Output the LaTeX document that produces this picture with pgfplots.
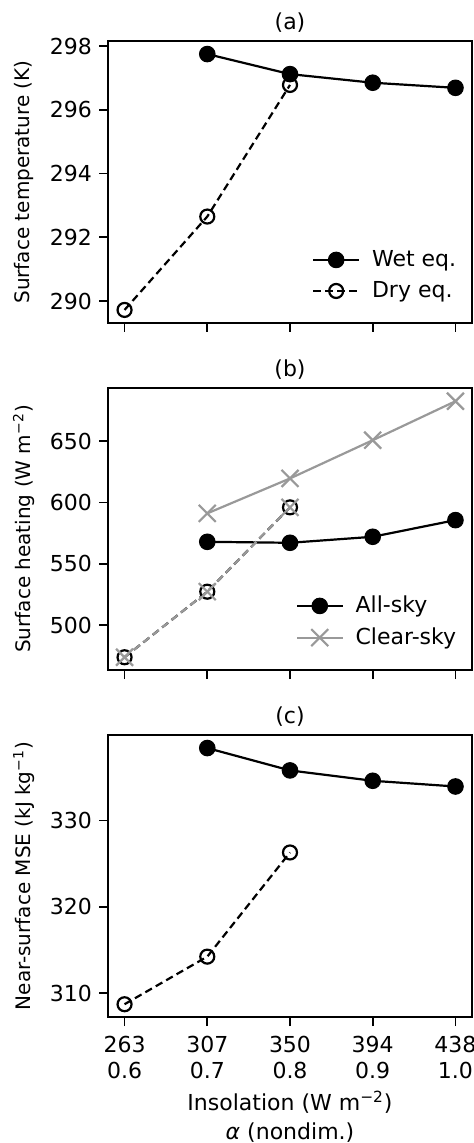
\documentclass[border=0pt]{standalone}
\usepackage{fontspec}
\setmainfont{DejaVu Sans}
\usepackage{pgfplots}
\pgfplotsset{compat=1.18}
\definecolor{mgray}{RGB}{153,153,153}

\pgfplotsset{
  panel/.style={
    width=182pt, height=141pt, scale only axis,
    xmin=0.58, xmax=1.02,
    xtick={0.6,0.7,0.8,0.9,1.0},
    tick align=outside, tick pos=left,
    major tick length=4.5pt,
    /pgf/number format/assume math mode=true,
    tick label style={font=\fontsize{11}{13}\selectfont},
    label style={font=\fontsize{11}{14.5}\selectfont},
    title style={font=\fontsize{11}{13}\selectfont, yshift=-5pt},
    axis line style={line width=0.8pt},
    every tick/.style={black, line width=0.8pt},
    legend style={draw=none, fill=none, font=\fontsize{11}{13}\selectfont,
      at={(0.985,0.05)}, anchor=south east, row sep=2pt,
      /tikz/every odd column/.append style={column sep=4pt}},
    legend cell align=left,
    legend image code/.code={\draw[mark repeat=2,mark phase=2] plot coordinates {(0cm,0cm) (0.4cm,0cm) (0.8cm,0cm)};},
    scaled ticks=false,
    yticklabel style={/pgf/number format/fixed, /pgf/number format/1000 sep={}},
    every axis y label/.style={at={([xshift=-42pt]axis description cs:0,0.5)}, rotate=90, anchor=center},
  },
  wet/.style={black, line width=1.1pt, mark=*, mark size=3.9pt, mark options={solid, line width=0.5pt}},
  dry/.style={black, line width=1.1pt, dash pattern=on 3.8pt off 2.2pt, mark=o, mark size=3.5pt, mark options={solid, line width=1.1pt}},
  clr/.style={mgray, line width=1.1pt, mark=x, mark size=6pt, mark options={solid, line width=1.1pt}},
}

\begin{document}
\begin{tikzpicture}
% (a) surface temperature
\begin{axis}[panel, at={(54pt,-20.5pt)}, anchor=north west,
  title={(a)}, ymin=289.31, ymax=298.16, ytick={290,292,294,296,298},
  xticklabels={}, ylabel={Surface temperature (K)}]
\addplot[wet] coordinates {(0.7,297.75) (0.8,297.12) (0.9,296.85) (1.0,296.69)};
\addlegendentry{Wet eq.}
\addplot[dry] coordinates {(0.6,289.72) (0.7,292.65) (0.8,296.78)};
\addlegendentry{Dry eq.}
\end{axis}

% (b) surface heating
\begin{axis}[panel, at={(54pt,-194pt)}, anchor=north west,
  title={(b)}, ymin=463.3, ymax=693.4, ytick={500,550,600,650},
  xticklabels={}, ylabel={Surface heating (W m\textsuperscript{−2})}]
\addplot[wet] coordinates {(0.7,567.9) (0.8,567.1) (0.9,572.0) (1.0,585.6)};
\addlegendentry{All-sky}
\addplot[clr] coordinates {(0.7,591.1) (0.8,619.6) (0.9,650.8) (1.0,682.6)};
\addlegendentry{Clear-sky}
\addplot[dry, forget plot] coordinates {(0.6,473.7) (0.7,527.2) (0.8,596.0)};
\addplot[clr, dash pattern=on 3.8pt off 2.2pt, forget plot] coordinates {(0.6,473.7) (0.7,527.2) (0.8,596.0)};
\end{axis}

% (c) near-surface MSE
\begin{axis}[panel, at={(54pt,-367.5pt)}, anchor=north west,
  title={(c)}, ymin=307.25, ymax=339.9, ytick={310,320,330},
  xticklabels={{263\\0.6},{307\\0.7},{350\\0.8},{394\\0.9},{438\\1.0}},
  xticklabel style={align=center, yshift=-1.5pt},
  xlabel={Insolation (W m\textsuperscript{−2})\\\textit{α} (nondim.)},
  xlabel style={align=center, yshift=0.5pt},
  ylabel={Near-surface MSE (kJ kg\textsuperscript{−1})}]
\addplot[wet] coordinates {(0.7,338.39) (0.8,335.8) (0.9,334.6) (1.0,333.94)};
\addplot[dry] coordinates {(0.6,308.73) (0.7,314.24) (0.8,326.3)};
\end{axis}

\pgfresetboundingbox
\useasboundingbox (0,0) rectangle (237pt,-571.5pt);
\end{tikzpicture}
\end{document}
